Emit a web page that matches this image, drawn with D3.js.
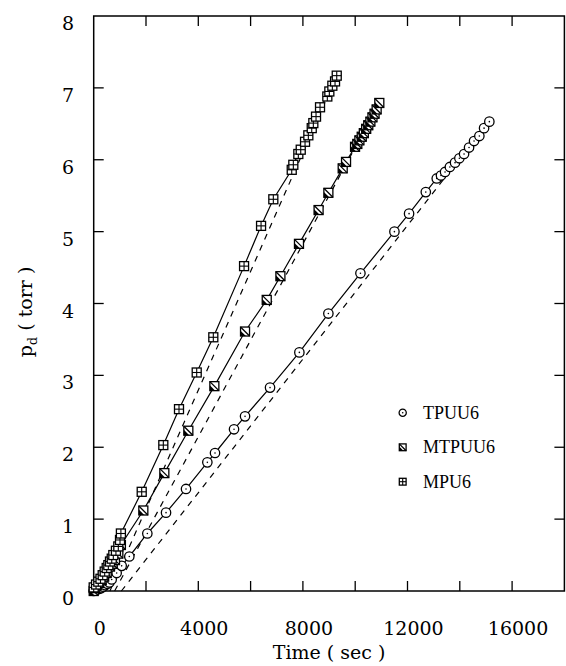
<!DOCTYPE html>
<html><head><meta charset="utf-8">
<script src="https://cdn.jsdelivr.net/npm/d3@7"></script>
<style>body{margin:0;background:#fff}svg{display:block}</style>
</head><body><svg id="c" width="566" height="666"></svg>
<script>
// ---- data ----
const seriesNames = ["TPUU6", "MTPUU6", "MPU6"];
const tpuuT = [0,60,130,200,280,360,440,520,600,688,878,1070,1362,2051,2766,3530,4346,4639,5366,5787,6743,7865,8974,10200,11500,12060,12700,13118,13280,13436,13620,13818,13984,14163,14354,14545,14748,14928,15130];
const tpuuP = [0,0.01,0.02,0.03,0.04,0.06,0.08,0.10,0.12,0.16,0.25,0.35,0.48,0.80,1.09,1.42,1.79,1.92,2.25,2.43,2.83,3.32,3.86,4.42,5.0,5.25,5.55,5.74,5.78,5.83,5.90,5.96,6.02,6.08,6.17,6.26,6.33,6.44,6.53];
const mtpT = [0,60,115,210,306,400,497,623,720,815,942,1040,1898,2701,3619,4614,5787,6617,7140,7850,8600,8974,9522,9650,9994,10080,10160,10250,10330,10420,10500,10580,10660,10740,10820,10922];
const mtpP = [0,0.04,0.08,0.11,0.15,0.20,0.25,0.34,0.38,0.43,0.52,0.64,1.12,1.64,2.23,2.85,3.61,4.05,4.38,4.83,5.30,5.54,5.88,5.97,6.18,6.22,6.27,6.32,6.37,6.43,6.48,6.53,6.59,6.64,6.70,6.79];
const mpuT = [0,90,176,260,344,420,497,560,623,690,750,850,941,1006,1040,1836,2662,3262,3939,4574,5750,6400,6869,7573,7634,7825,7917,8082,8208,8338,8399,8502,8655,8934,9011,9126,9229,9294];
const mpuP = [0.05,0.09,0.13,0.17,0.22,0.27,0.32,0.36,0.41,0.45,0.50,0.56,0.62,0.71,0.80,1.38,2.03,2.53,3.04,3.53,4.52,5.08,5.45,5.86,5.93,6.08,6.14,6.25,6.34,6.44,6.51,6.60,6.73,6.88,6.95,7.03,7.09,7.17];
// dashed steady-state lines: [start t, end t], [start p, end p]
const tpuuDashT = [1058, 15130], tpuuDashP = [0, 6.54];
const mtpDashT = [800, 10922], mtpDashP = [0, 6.79];
const mpuDashT = [620, 9294], mpuDashP = [0, 7.17];
const xTicks = [0,2000,4000,6000,8000,10000,12000,14000,16000,18000];
const xTickLabels = [0,4000,8000,12000,16000];
const yTicks = [0,1,2,3,4,5,6,7,8];

// ---- chart ----
const svg = d3.select("#c");
const x = d3.scaleLinear().domain([0,18000]).range([93.7,564.4]);
const y = d3.scaleLinear().domain([0,8]).range([591,16]);
const FONT = "'DejaVu Serif', serif";
const TL = 10;

const g = svg.append("g");
// frame
g.append("rect").attr("x", x(0)).attr("y", y(8)).attr("width", x(18000)-x(0)).attr("height", y(0)-y(8))
  .attr("fill","none").attr("stroke","#000").attr("stroke-width",1.5);

// ticks (inward, mirrored)
xTicks.slice(1,-1).forEach(t=>{
  g.append("line").attr("x1",x(t)).attr("x2",x(t)).attr("y1",y(0)).attr("y2",y(0)-TL).attr("stroke","#000").attr("stroke-width",1.3);
  g.append("line").attr("x1",x(t)).attr("x2",x(t)).attr("y1",y(8)).attr("y2",y(8)+TL).attr("stroke","#000").attr("stroke-width",1.3);
});
yTicks.slice(1,-1).forEach(v=>{
  g.append("line").attr("x1",x(0)).attr("x2",x(0)+TL).attr("y1",y(v)).attr("y2",y(v)).attr("stroke","#000").attr("stroke-width",1.3);
  g.append("line").attr("x1",x(18000)).attr("x2",x(18000)-TL).attr("y1",y(v)).attr("y2",y(v)).attr("stroke","#000").attr("stroke-width",1.3);
});
// tick labels
xTickLabels.forEach(t=>{
  g.append("text").attr("x",x(t)+6).attr("y",635).attr("text-anchor","middle")
   .attr("font-family",FONT).attr("font-size",19).text(t);
});
yTicks.forEach(v=>{
  g.append("text").attr("x",68).attr("y",y(v)+14).attr("text-anchor","middle")
   .attr("font-family",FONT).attr("font-size",19).text(v);
});
// axis titles
g.append("text").attr("x",329).attr("y",659).attr("text-anchor","middle")
 .attr("font-family",FONT).attr("font-size",19).text("Time ( sec )");
const yl = g.append("text").attr("transform","translate(32,312) rotate(-90)").attr("text-anchor","middle")
 .attr("font-family",FONT).attr("font-size",19);
yl.append("tspan").text("p");
yl.append("tspan").attr("font-size",13).attr("dy",5).text("d");
yl.append("tspan").attr("dy",-5).text(" ( torr )");

// dashed lines
function dashed(tArr,pArr){
  g.append("line").attr("x1",x(tArr[0])).attr("y1",y(pArr[0])).attr("x2",x(tArr[1])).attr("y2",y(pArr[1]))
   .attr("stroke","#000").attr("stroke-width",1.2).attr("stroke-dasharray","6,6");
}
dashed(tpuuDashT,tpuuDashP); dashed(mtpDashT,mtpDashP); dashed(mpuDashT,mpuDashP);

// solid lines
const line = d3.line().x(d=>x(d[0])).y(d=>y(d[1]));
const series = [
  {name:seriesNames[0], data:d3.zip(tpuuT,tpuuP), kind:"circle"},
  {name:seriesNames[1], data:d3.zip(mtpT,mtpP), kind:"diag"},
  {name:seriesNames[2], data:d3.zip(mpuT,mpuP), kind:"plus"}
];
series.forEach(s=>{
  g.append("path").attr("d",line(s.data)).attr("fill","none").attr("stroke","#000").attr("stroke-width",1.2);
});

function marker(sel, kind, cx, cy, r){
  const m = sel.append("g").attr("transform",`translate(${cx},${cy})`);
  if(kind==="circle"){
    m.append("circle").attr("r",r).attr("fill","#fff").attr("stroke","#000").attr("stroke-width",1.3);
    m.append("circle").attr("r",0.8).attr("fill","#000");
  } else if(kind==="diag"){
    m.append("rect").attr("x",-r).attr("y",-r).attr("width",2*r).attr("height",2*r).attr("fill","#fff").attr("stroke","#000").attr("stroke-width",1.3);
    m.append("path").attr("d",`M${-r},${-r*0.2}L${-r},${r}L${r*0.2},${r}Z`).attr("fill","#000");
    m.append("line").attr("x1",-r).attr("y1",-r).attr("x2",r).attr("y2",r).attr("stroke","#000").attr("stroke-width",1.3);
  } else {
    m.append("rect").attr("x",-r).attr("y",-r).attr("width",2*r).attr("height",2*r).attr("fill","#fff").attr("stroke","#000").attr("stroke-width",1.3);
    m.append("line").attr("x1",-r).attr("y1",0).attr("x2",r).attr("y2",0).attr("stroke","#000").attr("stroke-width",1.1);
    m.append("line").attr("x1",0).attr("y1",-r).attr("x2",0).attr("y2",r).attr("stroke","#000").attr("stroke-width",1.1);
  }
}
series.forEach(s=>{
  s.data.forEach(d=>marker(g, s.kind, x(d[0]), y(d[1]), s.kind==="circle"?4.7:4.5));
});

// legend
const legY = [412.7, 447.3, 481.7];
series.forEach((s,i)=>{
  marker(g, s.kind, 402.7, legY[i], s.kind==="circle"?3.6:3.4);
  g.append("text").attr("x",423).attr("y",legY[i]+6).attr("font-family","'Liberation Serif', serif")
   .attr("font-size",18).text(s.name);
});
</script></body></html>
